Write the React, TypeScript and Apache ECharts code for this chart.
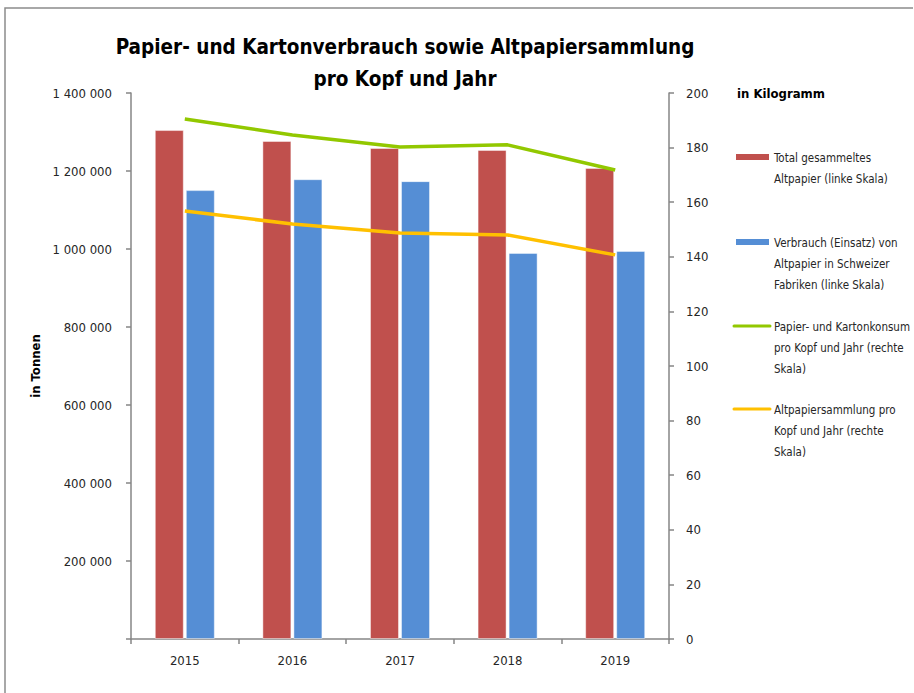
import React, { useEffect, useRef } from "react";
import * as echarts from "echarts";

const categories = ["2015", "2016", "2017", "2018", "2019"];
const totalCollected = [1305000, 1277000, 1259000, 1254000, 1208000];
const consumptionUsed = [1151000, 1179000, 1174000, 990000, 995000];
const paperPerCapita = [190.5, 184.6, 180.2, 181.0, 171.8];
const collectionPerCapita = [156.8, 152.0, 148.7, 148.0, 140.7];

const seriesNames = [
  "Total gesammeltes\nAltpapier (linke Skala)",
  "Verbrauch (Einsatz) von\nAltpapier in Schweizer\nFabriken (linke Skala)",
  "Papier- und Kartonkonsum\npro Kopf und Jahr (rechte\nSkala)",
  "Altpapiersammlung pro\nKopf und Jahr (rechte\nSkala)",
];
const colors = ["#C0504D", "#558ED5", "#92C800", "#FFC000"];

const FONT = "'DejaVu Sans Condensed', 'Liberation Sans Narrow', sans-serif";
const TXT = "#262626";

export default function App() {
  const ref = useRef<HTMLDivElement>(null);
  useEffect(() => {
    if (!ref.current) return;
    const chart = echarts.init(ref.current, null, { renderer: "svg" });
    const legendTops = [157, 242, 326, 409];
    const legendGraphics: any[] = [];
    seriesNames.forEach((name, i) => {
      const isBar = i < 2;
      if (isBar) {
        legendGraphics.push({
          type: "rect",
          shape: { x: 736, y: legendTops[i] - 3, width: 33, height: 6 },
          style: { fill: colors[i] },
        });
      } else {
        legendGraphics.push({
          type: "line",
          shape: { x1: 734, y1: legendTops[i], x2: 770, y2: legendTops[i] },
          style: { stroke: colors[i], lineWidth: 3, lineCap: "round" },
        });
      }
      legendGraphics.push({
        type: "text",
        x: 774,
        y: legendTops[i] - 10,
        style: {
          text: name,
          font: `11.5px ${FONT}`,
          fill: TXT,
          lineHeight: 21,
          textVerticalAlign: "top",
        },
      });
    });

    chart.setOption({
      animation: false,
      textStyle: { fontFamily: FONT },
      title: {
        text: "Papier- und Kartonverbrauch sowie Altpapiersammlung\npro Kopf und Jahr",
        left: 400,
        textAlign: "center",
        top: 26,
        textStyle: {
          fontFamily: FONT,
          fontSize: 20.5,
          fontWeight: "bold",
          color: "#000",
          lineHeight: 32,
        },
      },
      grid: { left: 131, right: 245, top: 93, bottom: 54, containLabel: false },
      xAxis: {
        type: "category",
        data: categories,
        axisLine: { lineStyle: { color: "#868686", width: 1.5 } },
        axisTick: { show: true, length: 5, lineStyle: { color: "#868686", width: 1.5 } },
        axisLabel: { color: TXT, fontSize: 13, margin: 15, fontFamily: FONT },
      },
      yAxis: [
        {
          type: "value",
          min: 0,
          max: 1400000,
          interval: 200000,
          name: "in Tonnen",
          nameLocation: "middle",
          nameRotate: 90,
          nameGap: 86,
          nameTextStyle: { fontWeight: "bold", fontSize: 13, color: "#000", fontFamily: FONT },
          axisLine: { show: true, lineStyle: { color: "#868686", width: 1.5 } },
          axisTick: { show: true, length: 5, lineStyle: { color: "#868686", width: 1.5 } },
          splitLine: { show: false },
          axisLabel: {
            color: TXT,
            fontSize: 13,
            margin: 19,
            fontFamily: FONT,
            formatter: (v: number) =>
              v === 0 ? "" : String(v).replace(/\B(?=(\d{3})+(?!\d))/g, " "),
          },
        },
        {
          type: "value",
          min: 0,
          max: 200,
          interval: 20,
          position: "right",
          name: "in Kilogramm",
          nameLocation: "end",
          nameGap: 0,
          nameTextStyle: {
            fontWeight: "bold",
            fontSize: 13,
            color: "#000",
            fontFamily: FONT,
            align: "left",
            verticalAlign: "middle",
            padding: [0, 0, 0, 68],
          },
          axisLine: { show: true, lineStyle: { color: "#868686", width: 1.5 } },
          axisTick: { show: true, length: 5, lineStyle: { color: "#868686", width: 1.5 } },
          splitLine: { show: false },
          axisLabel: { color: TXT, fontSize: 13, margin: 17, fontFamily: FONT },
        },
      ],
      series: [
        {
          name: seriesNames[0],
          type: "bar",
          data: totalCollected,
          yAxisIndex: 0,
          barWidth: 29,
          barGap: "7%",
          itemStyle: { color: colors[0], borderColor: "rgba(255,255,255,0.45)", borderWidth: 1 },
        },
        {
          name: seriesNames[1],
          type: "bar",
          data: consumptionUsed,
          yAxisIndex: 0,
          barWidth: 29,
          barGap: "7%",
          itemStyle: { color: colors[1], borderColor: "rgba(255,255,255,0.45)", borderWidth: 1 },
        },
        {
          name: seriesNames[2],
          type: "line",
          data: paperPerCapita,
          yAxisIndex: 1,
          symbol: "none",
          lineStyle: { color: colors[2], width: 3.5 },
          itemStyle: { color: colors[2] },
        },
        {
          name: seriesNames[3],
          type: "line",
          data: collectionPerCapita,
          yAxisIndex: 1,
          symbol: "none",
          lineStyle: { color: colors[3], width: 3.5 },
          itemStyle: { color: colors[3] },
        },
      ],
      graphic: [
        {
          type: "polyline",
          shape: { points: [[5, 693], [5, 8], [913, 8]] },
          style: { stroke: "#8c8c8c", lineWidth: 1.5, fill: "none" },
          silent: true,
        },
        ...legendGraphics,
      ],
    });
    return () => chart.dispose();
  }, []);
  return (
    <div
      ref={ref}
      style={{ position: "absolute", left: 0, top: 0, width: 914, height: 693, background: "#fff" }}
    />
  );
}
